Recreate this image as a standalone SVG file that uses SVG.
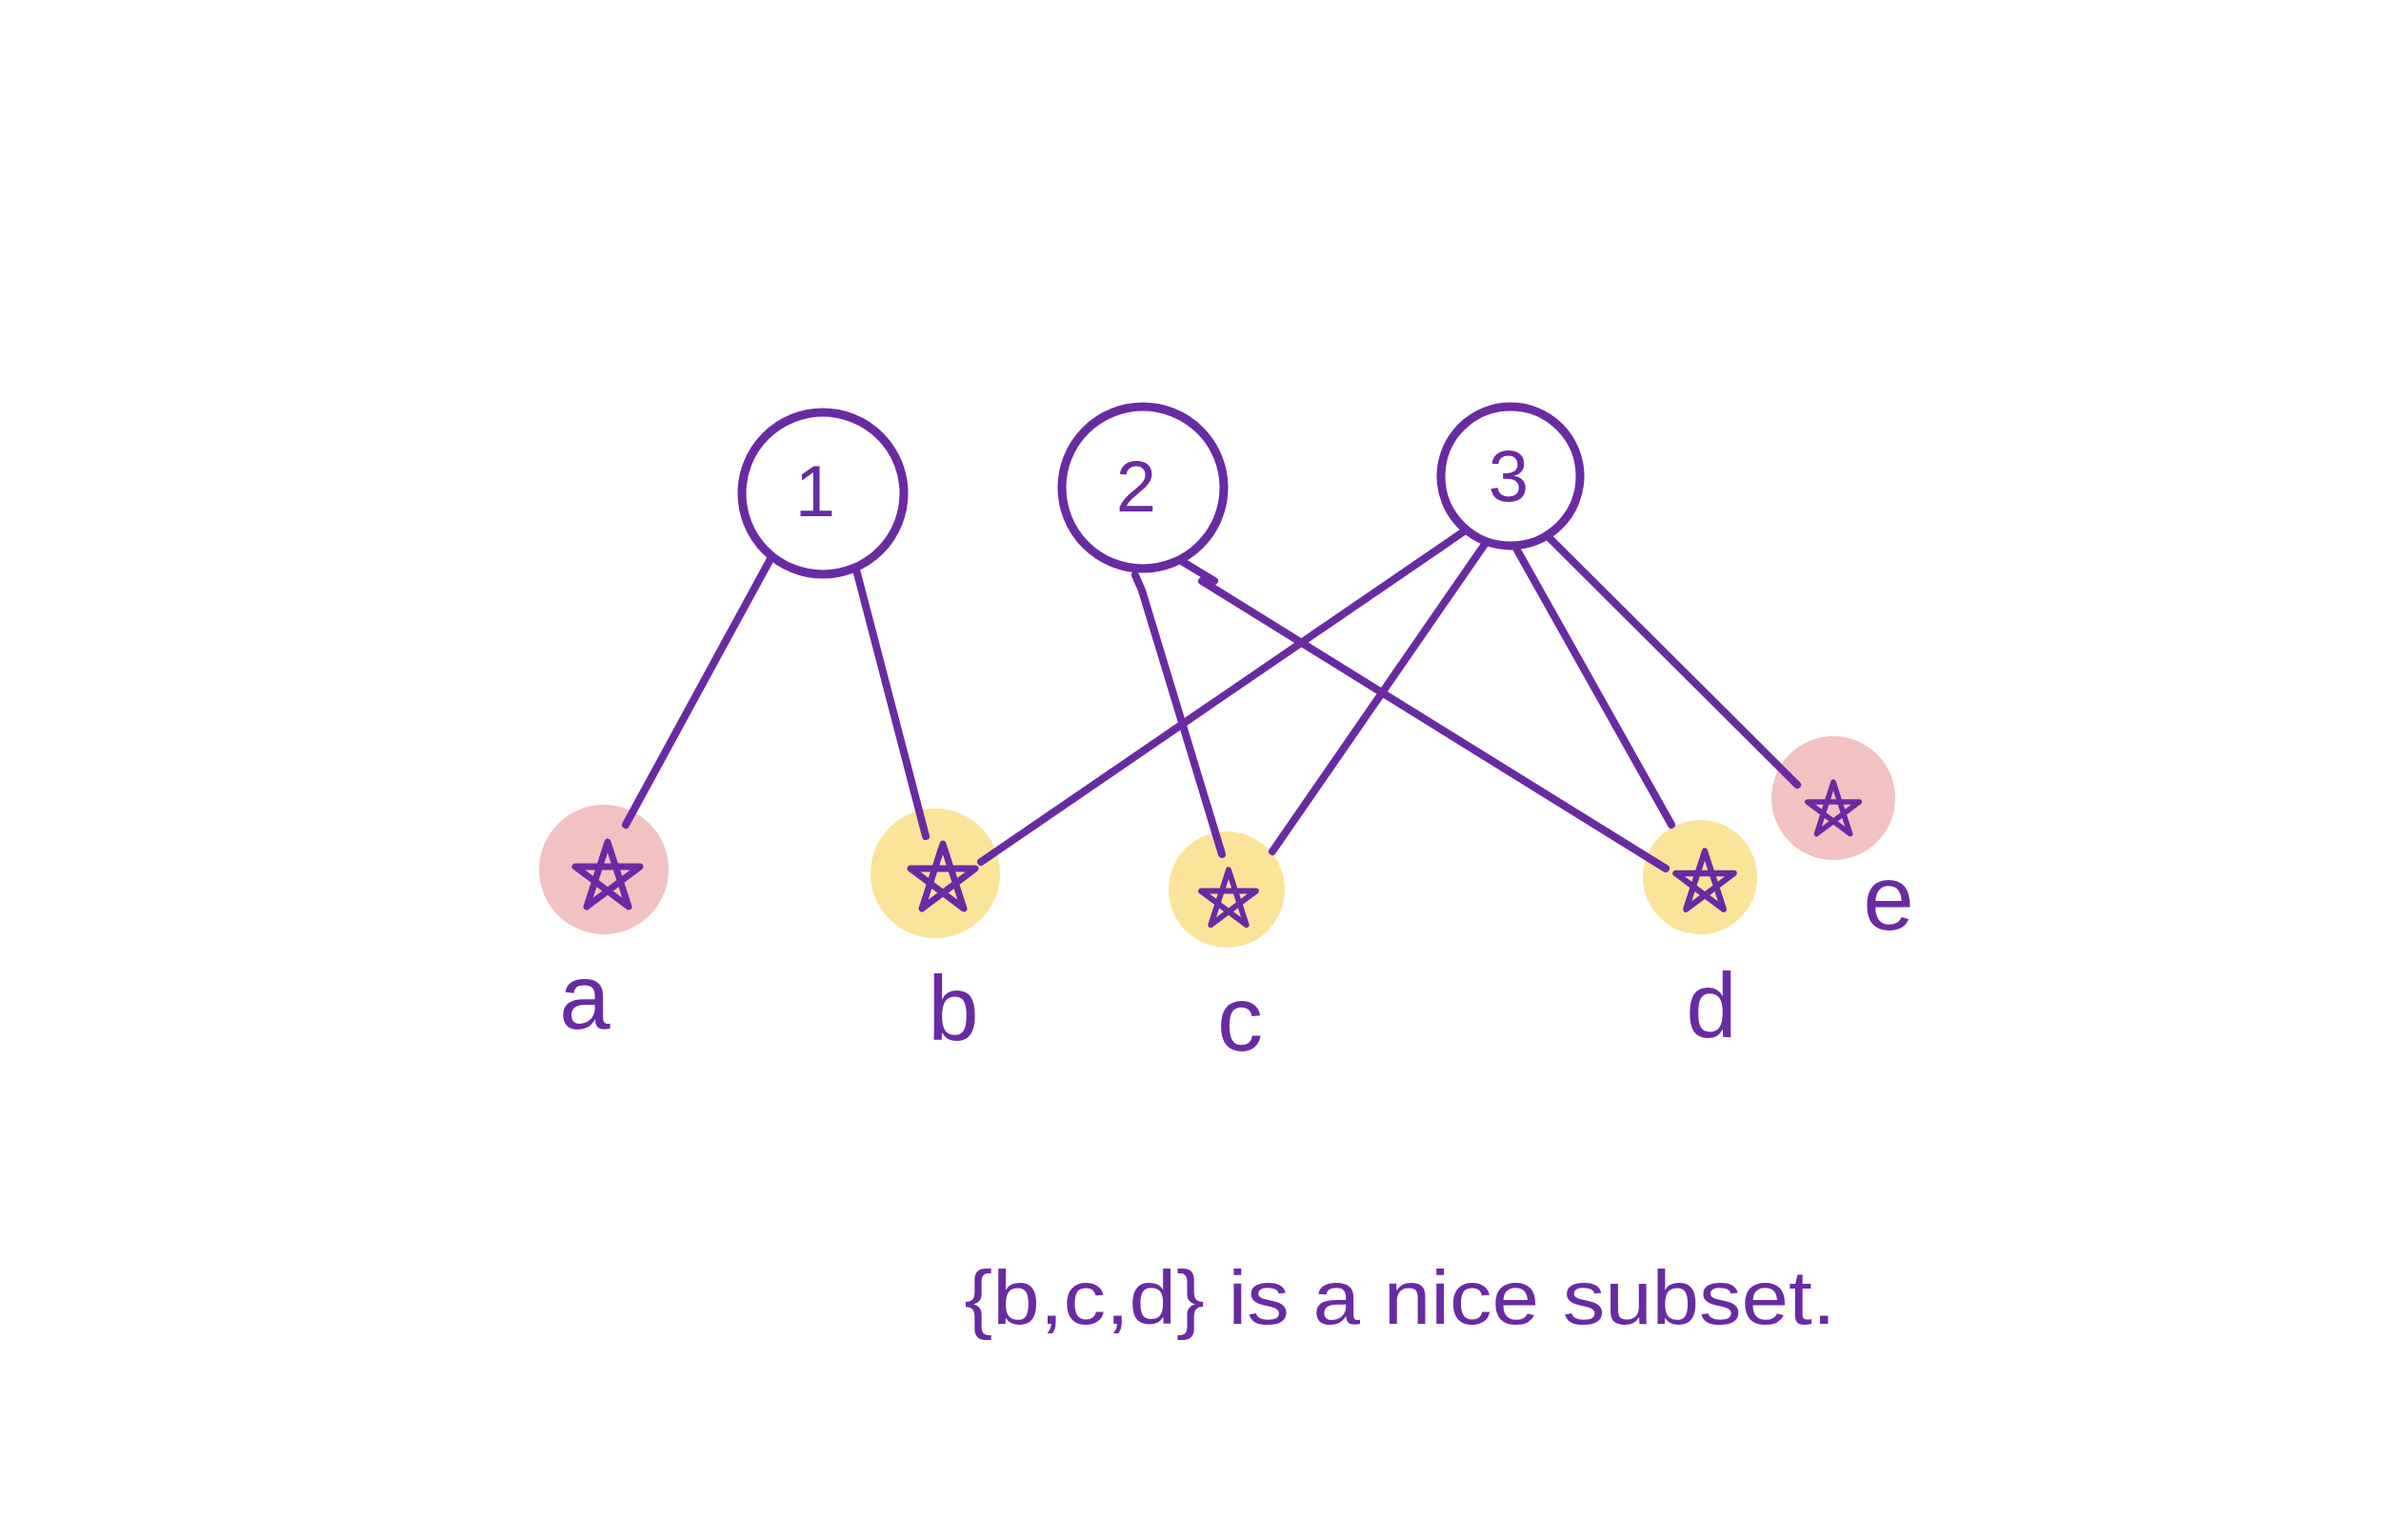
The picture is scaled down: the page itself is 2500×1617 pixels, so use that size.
<svg xmlns="http://www.w3.org/2000/svg" width="2500" height="1617" viewBox="0 0 2500 1617">
<style>
.edge{stroke:#6a2aa3;stroke-width:8;stroke-linecap:round;fill:none}
.ring{fill:#fff;stroke:#6a2aa3;stroke-width:9}
.pink{fill:#f2c1c1}
.yellow{fill:#f9e49a}
.star{fill:none;stroke:#6a2aa3;stroke-width:7;stroke-linecap:round;stroke-linejoin:round}
.lbl{font-family:"Liberation Sans",Arial,sans-serif;fill:#6a2aa3;text-anchor:middle}
</style>
<defs>
<path id="star" d="M0,-36 L22,32 L-34,-10 L34,-10 L-22,32 Z"/>
</defs>
<rect width="2500" height="1617" fill="#fff"/>
<g id="node-a"><circle class="pink" cx="634" cy="913" r="68"/><use href="#star" class="star" transform="translate(638,920)"/><text class="lbl" x="614" y="1080" font-size="96">a</text></g>
<g id="node-b"><circle class="yellow" cx="982" cy="917" r="68"/><use href="#star" class="star" transform="translate(990,922)"/><text class="lbl" x="1001" y="1092" font-size="96">b</text></g>
<g id="node-c"><circle class="yellow" cx="1288" cy="934" r="61"/><use href="#star" class="star" transform="translate(1290,944) scale(0.85)"/><text class="lbl" x="1302" y="1103" font-size="96">c</text></g>
<g id="node-d"><circle class="yellow" cx="1785" cy="921" r="60"/><use href="#star" class="star" transform="translate(1790,926) scale(0.9)"/><text class="lbl" x="1797" y="1089" font-size="96">d</text></g>
<g id="node-e"><circle class="pink" cx="1925" cy="838" r="65"/><use href="#star" class="star" transform="translate(1925,850) scale(0.8)"/><text class="lbl" x="1983" y="976" font-size="96">e</text></g>
<g id="connectors">
<line class="edge" x1="810" y1="585" x2="657" y2="866"/>
<line class="edge" x1="899" y1="598" x2="972" y2="878"/>
<path class="edge" d="M1192,604 L1199,620 L1283,897"/>
<path class="edge" d="M1242,590 L1275,610 M1262,610 L1749,912"/>
<line class="edge" x1="1540" y1="556" x2="1030" y2="905"/>
<line class="edge" x1="1562" y1="567" x2="1336" y2="894"/>
<line class="edge" x1="1591" y1="574" x2="1755" y2="866"/>
<line class="edge" x1="1623" y1="561" x2="1887" y2="824"/>
</g>
<g id="node-1"><circle class="ring" cx="864" cy="518" r="85"/><text class="lbl" x="856" y="542" font-size="76">1</text></g>
<g id="node-2"><circle class="ring" cx="1200" cy="512" r="85"/><text class="lbl" x="1193" y="537" font-size="76">2</text></g>
<g id="node-3"><circle class="ring" cx="1586" cy="500" r="73"/><text class="lbl" x="1584" y="526" font-size="76">3</text></g>
<g id="caption"><text class="lbl" x="1470" y="1390" font-size="80" textLength="915" lengthAdjust="spacingAndGlyphs">{b,c,d} is a nice subset.</text></g>
</svg>
